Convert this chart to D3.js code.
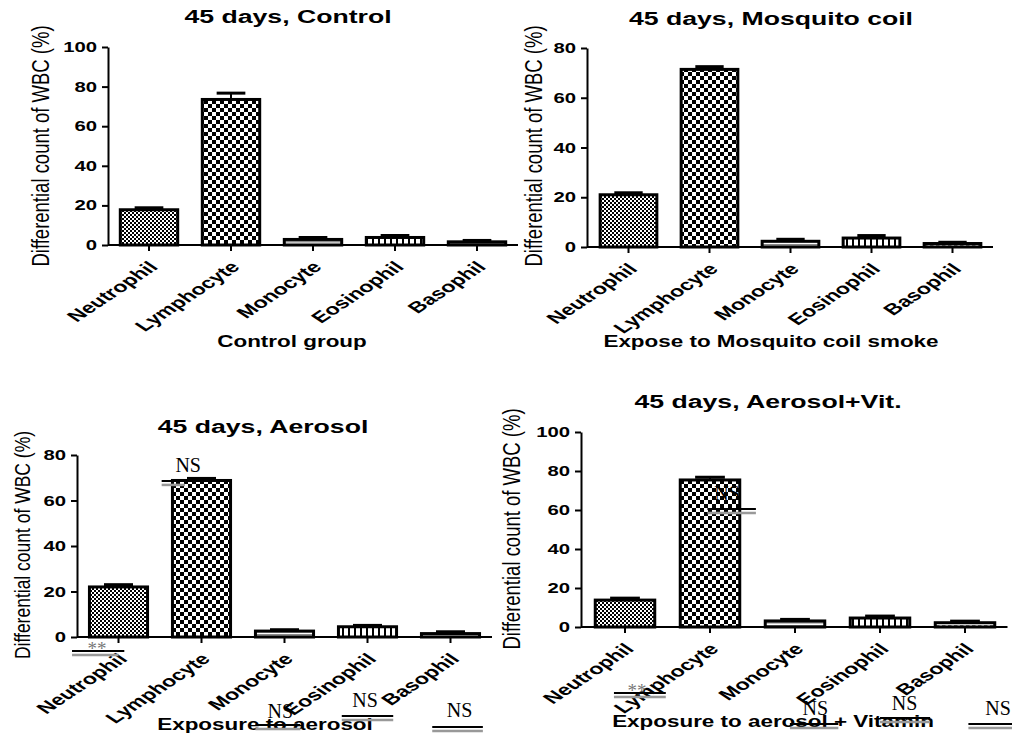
<!DOCTYPE html>
<html lang="en">
<head>
<meta charset="UTF-8">
<title>Differential count of WBC, 45 days</title>
<style>
    body { margin: 0; background: #fff; }
    svg { display: block; }
    .tick-label { font-family: "Liberation Sans", Arial, sans-serif; font-weight: bold; font-size: 14px; fill: #000; }
    .cat-label { font-family: "Liberation Sans", Arial, sans-serif; font-weight: bold; font-size: 15.5px; fill: #000; }
    .title { font-family: "Liberation Sans", Arial, sans-serif; font-weight: bold; font-size: 18px; fill: #000; }
    .x-title { font-family: "Liberation Sans", Arial, sans-serif; font-weight: bold; font-size: 17px; fill: #000; }
    .y-title { font-family: "Liberation Sans", Arial, sans-serif; font-size: 18.5px; fill: #000; }
    .sig { font-family: "Liberation Serif", "Times New Roman", serif; font-size: 20px; fill: #000; }
    .stars { font-family: "Liberation Serif", "Times New Roman", serif; font-size: 19px; fill: #777; }
</style>
<script src="https://d3js.org/d3.v7.min.js"></script>
</head>
<body>
<div id="chart"></div>
<script>
// data (mean and error of each cell type, %)
const categories = ["Neutrophil", "Lymphocyte", "Monocyte", "Eosinophil", "Basophil"];

const controlMean = [17.8, 73.5, 2.8, 3.8, 1.6];
const controlErr = [1.0, 3.2, 1.0, 1.0, 0.7];
const coilMean = [21.0, 71.4, 2.3, 3.6, 1.4];
const coilErr = [0.8, 1.1, 0.8, 1.0, 0.5];
const aerosolMean = [22.0, 68.8, 2.6, 4.5, 1.5];
const aerosolErr = [1.0, 0.9, 0.6, 0.6, 0.8];
const vitMean = [13.8, 75.4, 3.1, 4.6, 2.2];
const vitErr = [1.0, 1.4, 0.8, 1.0, 0.8];

const ticks100 = [0, 20, 40, 60, 80, 100];
const ticks80 = [0, 20, 40, 60, 80];

const titles = ["45 days, Control", "45 days, Mosquito coil", "45 days, Aerosol", "45 days, Aerosol+Vit."];
const xTitles = ["Control group", "Expose to Mosquito coil smoke", "Exposure to aerosol", "Exposure to aerosol + Vitamin"];
const yTitle = "Differential count of WBC (%)";

// significance marks pasted over the lower two panels
const aerosolMarks = ["**", "NS", "NS", "NS", "NS"];
const vitMarks = ["**", "NS", "NS", "NS", "NS"];

const width = 1012, height = 735;
const svg = d3.select("#chart").append("svg")
    .attr("width", width)
    .attr("height", height);

// fill patterns, one per cell type
const defs = svg.append("defs");
function pattern(id, w, h) {
    return defs.append("pattern")
        .attr("id", id)
        .attr("patternUnits", "userSpaceOnUse")
        .attr("width", w)
        .attr("height", h);
}
let p = pattern("pNeutro", 4, 4);
p.append("rect").attr("width", 4).attr("height", 4).attr("fill", "#fff");
p.append("rect").attr("width", 2).attr("height", 2).attr("fill", "#000");
p.append("rect").attr("x", 2).attr("y", 2).attr("width", 2).attr("height", 2).attr("fill", "#000");

p = pattern("pLympho", 8, 8);
p.append("rect").attr("width", 8).attr("height", 8).attr("fill", "#fff");
p.append("rect").attr("width", 4).attr("height", 4).attr("fill", "#000");
p.append("rect").attr("x", 4).attr("y", 4).attr("width", 4).attr("height", 4).attr("fill", "#000");

p = pattern("pMono", 4, 3);
p.append("rect").attr("width", 4).attr("height", 3).attr("fill", "#fff");
p.append("rect").attr("y", 1).attr("width", 4).attr("height", 1.5).attr("fill", "#8a8a8a");

p = pattern("pEos", 6, 6);
p.append("rect").attr("width", 6).attr("height", 6).attr("fill", "#fff");
p.append("rect").attr("x", 0).attr("width", 2).attr("height", 6).attr("fill", "#000");

p = pattern("pBaso", 6, 4);
p.append("rect").attr("width", 6).attr("height", 4).attr("fill", "#fff");
p.append("rect").attr("y", 1.5).attr("width", 3.5).attr("height", 1.2).attr("fill", "#000");

const fills = ["url(#pNeutro)", "url(#pLympho)", "url(#pMono)", "url(#pEos)", "url(#pBaso)"];

// panel placement
const panels = [
    { mean: controlMean, err: controlErr, ticks: ticks100, title: titles[0], xTitle: xTitles[0],
      left: 108, start: 108, step: 82, bottom: 245, top: 47,
      titleX: 288, titleY: 23, xTitleX: 292, xTitleY: 347, yTitleX: 41, yTitleY: 146, yTitleSize: 18.5 },
    { mean: coilMean, err: coilErr, ticks: ticks80, title: titles[1], xTitle: xTitles[1],
      left: 587, start: 588, step: 81, bottom: 247, top: 48,
      titleX: 771, titleY: 25, xTitleX: 771, xTitleY: 347, yTitleX: 534, yTitleY: 146, yTitleSize: 18.5 },
    { mean: aerosolMean, err: aerosolErr, ticks: ticks80, title: titles[2], xTitle: xTitles[2],
      left: 77, start: 77, step: 83, bottom: 637, top: 455,
      titleX: 263, titleY: 433, xTitleX: 265, xTitleY: 730, yTitleX: 22, yTitleY: 545, yTitleSize: 17.5,
      marks: aerosolMarks,
      // [text centre, baseline value, line from, line to, line value, grey line to]
      markPos: [[-0.26, -5.2, -0.56, 0.07, -6.2, 0.0], [0.84, 72.5, 0.52, 1.36, 68.6, 0.8],
                [1.95, -35.6, 1.65, 2.19, -38.7, 2.19], [2.97, -30.8, 2.69, 3.31, -34.7, 3.31],
                [4.11, -35.2, 3.78, 4.39, -39.6, 4.39]] },
    { mean: vitMean, err: vitErr, ticks: ticks100, title: titles[3], xTitle: xTitles[3],
      left: 581, start: 582.5, step: 85, bottom: 627, top: 432,
      titleX: 768, titleY: 408, xTitleX: 773, xTitleY: 727, yTitleX: 512, yTitleY: 529, yTitleSize: 18.5,
      marks: vitMarks,
      markPos: [[0.14, -32.8, -0.13, 0.48, -33.8, 0.48], [1.2, 65.1, 0.97, 1.54, 60.5, 1.54],
                [2.24, -45.1, 1.94, 2.51, -49.7, 2.51], [3.29, -42.6, 3.0, 3.59, -46.7, 3.59],
                [4.39, -45.1, 4.04, 4.6, -49.7, 4.6]] }
];

panels.forEach(drawPanel);

function drawPanel(cfg) {
    const g = svg.append("g");
    const n = categories.length;

    const x = d3.scaleBand()
        .domain(categories)
        .range([cfg.start, cfg.start + n * cfg.step])
        .paddingInner(0.3)
        .paddingOuter(0.15);
    // category index -> pixel, for the pasted significance marks
    const xi = d3.scaleLinear().domain([-0.5, n - 0.5]).range(x.range());

    const y = d3.scaleLinear()
        .domain([0, d3.max(cfg.ticks)])
        .range([cfg.bottom, cfg.top]);

    // bars
    g.selectAll(".bar")
        .data(categories)
        .join("rect")
        .attr("class", "bar")
        .attr("x", d => x(d))
        .attr("y", (d, i) => y(cfg.mean[i]))
        .attr("width", x.bandwidth())
        .attr("height", (d, i) => y(0) - y(cfg.mean[i]))
        .attr("fill", (d, i) => fills[i])
        .attr("stroke", "#000")
        .attr("stroke-width", 3);

    // error bars
    const capW = x.bandwidth() * 0.5;
    g.selectAll(".err")
        .data(categories)
        .join("line")
        .attr("class", "err")
        .attr("x1", d => x(d) + x.bandwidth() / 2)
        .attr("x2", d => x(d) + x.bandwidth() / 2)
        .attr("y1", (d, i) => y(cfg.mean[i]))
        .attr("y2", (d, i) => y(cfg.mean[i] + cfg.err[i]))
        .attr("stroke", "#000")
        .attr("stroke-width", 2);
    g.selectAll(".cap")
        .data(categories)
        .join("line")
        .attr("class", "cap")
        .attr("x1", d => x(d) + x.bandwidth() / 2 - capW / 2)
        .attr("x2", d => x(d) + x.bandwidth() / 2 + capW / 2)
        .attr("y1", (d, i) => y(cfg.mean[i] + cfg.err[i]))
        .attr("y2", (d, i) => y(cfg.mean[i] + cfg.err[i]))
        .attr("stroke", "#000")
        .attr("stroke-width", 3);

    // x axis: line plus small ticks under each bar
    const xAxis = g.append("g")
        .attr("transform", `translate(0,${cfg.bottom})`)
        .call(d3.axisBottom(x).tickSize(6).tickSizeOuter(0).tickFormat(""));
    xAxis.select(".domain").attr("stroke-width", 2).attr("d", `M${cfg.left},0H${x.range()[1]}`);
    xAxis.selectAll(".tick line").attr("stroke-width", 2);

    // category labels, slanted (the figure is stretched sideways)
    g.selectAll(".cat-label")
        .data(categories)
        .join("text")
        .attr("class", "cat-label")
        .attr("text-anchor", "end")
        .attr("transform", d => `translate(${x(d) + x.bandwidth() / 2 + 10},${cfg.bottom + 23}) scale(1.5,1) rotate(-45)`)
        .text(d => d);

    // y axis
    const yAxis = g.append("g")
        .attr("transform", `translate(${cfg.left},0)`)
        .call(d3.axisLeft(y).tickValues(cfg.ticks).tickSize(6).tickSizeOuter(0).tickFormat(""));
    yAxis.select(".domain").attr("stroke-width", 2);
    yAxis.selectAll(".tick line").attr("stroke-width", 2);

    g.selectAll(".tick-label")
        .data(cfg.ticks)
        .join("text")
        .attr("class", "tick-label")
        .attr("text-anchor", "end")
        .attr("transform", d => `translate(${cfg.left - 11},${y(d) + 5}) scale(1.45,1)`)
        .text(d => d);

    // titles
    g.append("text")
        .attr("class", "title")
        .attr("text-anchor", "middle")
        .attr("transform", `translate(${cfg.titleX},${cfg.titleY}) scale(1.48,1)`)
        .text(cfg.title);

    g.append("text")
        .attr("class", "x-title")
        .attr("text-anchor", "middle")
        .attr("transform", `translate(${cfg.xTitleX},${cfg.xTitleY}) scale(1.32,1)`)
        .text(cfg.xTitle);

    g.append("text")
        .attr("class", "y-title")
        .attr("text-anchor", "middle")
        .attr("dy", "0.35em")
        .style("font-size", cfg.yTitleSize + "px")
        .attr("transform", `translate(${cfg.yTitleX},${cfg.yTitleY}) scale(1.3,1) rotate(-90)`)
        .text(yTitle);

    // significance marks
    if (cfg.marks) {
        cfg.marks.forEach((m, i) => {
            const [u, v, u1, u2, vl, ug] = cfg.markPos[i];
            g.append("line")
                .attr("x1", xi(u1)).attr("x2", ug === undefined ? xi(u2) : xi(ug))
                .attr("y1", y(vl) + 4).attr("y2", y(vl) + 4)
                .attr("stroke", "#999").attr("stroke-width", 2.5);
            g.append("line")
                .attr("x1", xi(u1)).attr("x2", xi(u2))
                .attr("y1", y(vl)).attr("y2", y(vl))
                .attr("stroke", "#000").attr("stroke-width", 2);
            g.append("text")
                .attr("class", m === "**" ? "stars" : "sig")
                .attr("text-anchor", "middle")
                .attr("x", xi(u))
                .attr("y", y(v) + (m === "**" ? 6 : 0))
                .text(m);
        });
    }
}
</script>
</body>
</html>
